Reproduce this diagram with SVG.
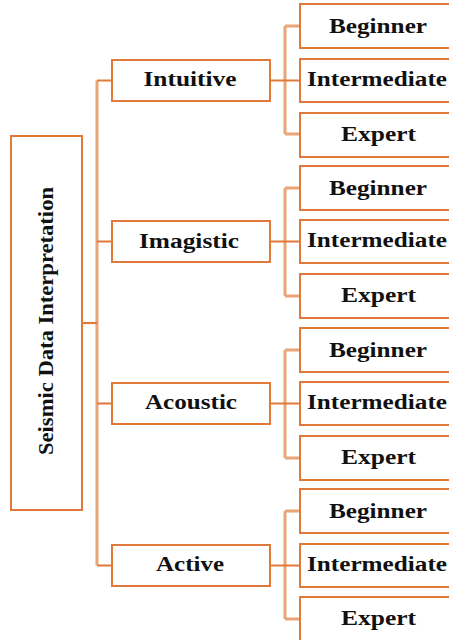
<svg xmlns="http://www.w3.org/2000/svg" width="449" height="640" viewBox="0 0 449 640">
  <style>
    .box { fill: #ffffff; stroke: #E07A3A; stroke-width: 2; }
    .lbl { font-family: "Liberation Serif", "Times New Roman", serif; font-weight: bold; font-size: 20.5px; fill: #111111; text-anchor: middle; }
    .trunk { fill: none; stroke: #E9A576; stroke-width: 3; }
    .stub { fill: none; stroke: #E07A3A; stroke-width: 2.2; }
  </style>
  <rect width="449" height="640" fill="#ffffff"/>

  <!-- connectors -->
  <g id="connectors">
    <!-- root to categories -->
    <path class="trunk" d="M97 80.5 V565.5"/>
    <path class="stub" d="M82 323 H97"/>
    <path class="stub" d="M97 80.5 H112 M97 241.5 H112 M97 403.5 H112 M97 565.5 H112"/>
    <!-- category to levels -->
    <path class="trunk" d="M285 26 V134 M285 26 H300 M285 134 H300"/>
    <path class="trunk" d="M285 188 V296 M285 188 H300 M285 296 H300"/>
    <path class="trunk" d="M285 350 V458 M285 350 H300 M285 458 H300"/>
    <path class="trunk" d="M285 511 V619 M285 511 H300 M285 619 H300"/>
    <path class="stub" d="M270 80.5 H300 M270 241.5 H300 M270 403.5 H300 M270 565.5 H300"/>
  </g>

  <!-- root -->
  <g id="root">
    <rect class="box" x="11" y="136" width="71" height="374"/>
    <text class="lbl" transform="translate(53 321) rotate(-90)" x="0" y="0" textLength="268" lengthAdjust="spacingAndGlyphs">Seismic Data Interpretation</text>
  </g>

  <!-- categories -->
  <g id="intuitive">
    <rect class="box" x="112" y="60" width="158" height="41"/>
    <text class="lbl" x="190" y="86" textLength="93" lengthAdjust="spacingAndGlyphs">Intuitive</text>
  </g>
  <g id="imagistic">
    <rect class="box" x="112" y="221" width="158" height="41"/>
    <text class="lbl" x="189" y="247.5" textLength="100" lengthAdjust="spacingAndGlyphs">Imagistic</text>
  </g>
  <g id="acoustic">
    <rect class="box" x="112" y="383" width="158" height="41"/>
    <text class="lbl" x="191" y="409" textLength="92" lengthAdjust="spacingAndGlyphs">Acoustic</text>
  </g>
  <g id="active">
    <rect class="box" x="112" y="545" width="158" height="41"/>
    <text class="lbl" x="190" y="571" textLength="68" lengthAdjust="spacingAndGlyphs">Active</text>
  </g>

  <!-- levels: Intuitive -->
  <g id="intuitive-beginner">
    <rect class="box" x="300" y="4" width="156" height="44"/>
    <text class="lbl" x="378" y="33" textLength="98" lengthAdjust="spacingAndGlyphs">Beginner</text>
  </g>
  <g id="intuitive-intermediate">
    <rect class="box" x="300" y="59" width="156" height="43"/>
    <text class="lbl" x="377" y="86" textLength="140" lengthAdjust="spacingAndGlyphs">Intermediate</text>
  </g>
  <g id="intuitive-expert">
    <rect class="box" x="300" y="113" width="156" height="44"/>
    <text class="lbl" x="378.5" y="141" textLength="75" lengthAdjust="spacingAndGlyphs">Expert</text>
  </g>

  <!-- levels: Imagistic -->
  <g id="imagistic-beginner">
    <rect class="box" x="300" y="166" width="156" height="44"/>
    <text class="lbl" x="378" y="195" textLength="98" lengthAdjust="spacingAndGlyphs">Beginner</text>
  </g>
  <g id="imagistic-intermediate">
    <rect class="box" x="300" y="220" width="156" height="43"/>
    <text class="lbl" x="377" y="247" textLength="140" lengthAdjust="spacingAndGlyphs">Intermediate</text>
  </g>
  <g id="imagistic-expert">
    <rect class="box" x="300" y="274" width="156" height="44"/>
    <text class="lbl" x="378.5" y="302" textLength="75" lengthAdjust="spacingAndGlyphs">Expert</text>
  </g>

  <!-- levels: Acoustic -->
  <g id="acoustic-beginner">
    <rect class="box" x="300" y="328" width="156" height="44"/>
    <text class="lbl" x="378" y="357" textLength="98" lengthAdjust="spacingAndGlyphs">Beginner</text>
  </g>
  <g id="acoustic-intermediate">
    <rect class="box" x="300" y="382" width="156" height="43"/>
    <text class="lbl" x="377" y="409" textLength="140" lengthAdjust="spacingAndGlyphs">Intermediate</text>
  </g>
  <g id="acoustic-expert">
    <rect class="box" x="300" y="436" width="156" height="44"/>
    <text class="lbl" x="378.5" y="464" textLength="75" lengthAdjust="spacingAndGlyphs">Expert</text>
  </g>

  <!-- levels: Active -->
  <g id="active-beginner">
    <rect class="box" x="300" y="489" width="156" height="44"/>
    <text class="lbl" x="378" y="518" textLength="98" lengthAdjust="spacingAndGlyphs">Beginner</text>
  </g>
  <g id="active-intermediate">
    <rect class="box" x="300" y="544" width="156" height="43"/>
    <text class="lbl" x="377" y="571" textLength="140" lengthAdjust="spacingAndGlyphs">Intermediate</text>
  </g>
  <g id="active-expert">
    <rect class="box" x="300" y="597" width="156" height="44"/>
    <text class="lbl" x="378.5" y="625" textLength="75" lengthAdjust="spacingAndGlyphs">Expert</text>
  </g>
</svg>
